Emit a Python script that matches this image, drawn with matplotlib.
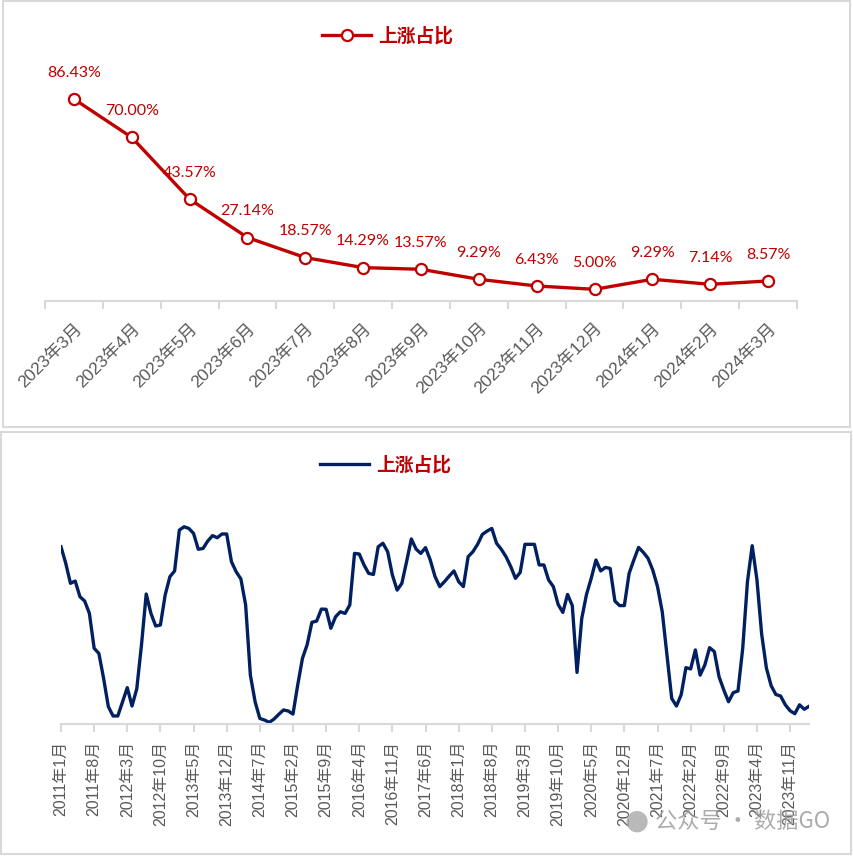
import matplotlib
matplotlib.use("Agg")
import matplotlib.pyplot as plt
from matplotlib.patches import Rectangle

plt.rcParams['font.family'] = ['Liberation Sans', 'Noto Sans CJK SC', 'DejaVu Sans']

# top chart data (last 13 months)
top_months = ["2023年3月", "2023年4月", "2023年5月", "2023年6月", "2023年7月", "2023年8月",
              "2023年9月", "2023年10月", "2023年11月", "2023年12月", "2024年1月",
              "2024年2月", "2024年3月"]
top_values = [86.43, 70.00, 43.57, 27.14, 18.57, 14.29, 13.57, 9.29, 6.43, 5.00, 9.29, 7.14, 8.57]

# bottom chart data, monthly from 2011年1月 to 2024年3月
hist_values = [85.9, 77.9, 68.2, 69.3, 61.7, 59.6, 53.6, 36.7, 34.2, 22.1, 8.4, 3.9,
               3.9, 10.8, 17.6, 8.7, 17.0, 38.3, 63.0, 53.6, 47.5, 48.0, 62.5, 71.4,
               74.2, 94.0, 95.6, 94.8, 92.4, 84.7, 85.1, 88.7, 91.3, 90.3, 92.1, 92.1,
               78.7, 73.8, 70.3, 57.7, 23.7, 10.8, 2.7, 1.9, 0.8, 2.4, 4.7, 6.8,
               6.3, 4.8, 18.9, 31.8, 38.5, 49.3, 49.9, 55.7, 55.6, 46.4, 52.0, 54.4,
               53.6, 57.7, 82.7, 82.4, 77.1, 73.0, 72.5, 85.9, 87.6, 83.5, 72.2, 64.9,
               68.2, 78.7, 89.7, 84.8, 82.7, 85.5, 79.5, 71.5, 66.6, 69.0, 71.7, 74.2,
               69.0, 66.6, 81.1, 83.5, 87.1, 91.9, 93.5, 94.8, 87.6, 84.7, 81.1, 76.3,
               70.6, 73.5, 87.1, 87.1, 87.1, 77.1, 77.1, 69.8, 66.6, 58.0, 54.1, 62.8,
               57.4, 25.0, 51.2, 62.8, 70.6, 79.5, 74.2, 75.9, 75.4, 59.6, 57.4, 57.4,
               73.0, 79.5, 85.6, 83.2, 80.3, 74.6, 66.6, 54.4, 33.4, 12.4, 8.7, 14.2,
               27.3, 26.7, 35.9, 23.7, 28.6, 37.0, 35.1, 22.9, 16.5, 10.8, 15.2, 16.0,
               36.7, 69.0] + top_values
hist_months = ["%d年%d月" % (2011 + k // 12, k % 12 + 1) for k in range(len(hist_values))]

RED = "#C00000"
NAVY = "#002060"
GRID = "#D9D9D9"
LABEL = "#595959"

W, H = 854, 856
fig = plt.figure(figsize=(W / 100, H / 100), dpi=100)

def box(x0, y0, x1, y1):
    # pixel coords (top-left origin) -> figure fraction
    return [x0 / W, 1 - y1 / H, (x1 - x0) / W, (y1 - y0) / H]

# panel borders
fig.patches.append(Rectangle((3 / W, 1 - 427 / H), 847 / W, 426 / H, transform=fig.transFigure,
                             fill=False, edgecolor=GRID, lw=1.5))
fig.patches.append(Rectangle((1 / W, 1 - 854 / H), 850 / W, 422 / H, transform=fig.transFigure,
                             fill=False, edgecolor=GRID, lw=1.5))

# ---- top chart ----
ax1 = fig.add_axes(box(45, 67.3, 797, 301))
x1 = list(range(len(top_values)))
ax1.plot(x1, top_values, color=RED, lw=2.4, marker='o', ms=8, mfc='white', mec=RED, mew=1.6,
         label="上涨占比", zorder=3)
for xi, v in zip(x1, top_values):
    ax1.annotate("%.2f%%" % v, (xi, v), xytext=(0, 19), textcoords='offset points',
                 ha='center', va='center', color=RED, fontsize=11.5, family=['Lato', 'DejaVu Sans'])
ax1.set_xlim(-0.5, len(top_values) - 0.5)
ax1.set_ylim(0, 100)
ax1.set_yticks([])
ax1.set_xticks([i - 0.5 for i in range(len(top_values) + 1)])
ax1.set_xticklabels([])
ax1.set_xticks(x1, minor=True)
ax1.set_xticklabels(top_months, minor=True, rotation=45, ha='right', va='top',
                    rotation_mode='anchor', color=LABEL, fontsize=12.5)
ax1.tick_params(axis='x', which='major', length=6, width=1.5, color=GRID, direction='out')
ax1.tick_params(axis='x', which='minor', length=0, pad=14)
for s in ['top', 'right', 'left']:
    ax1.spines[s].set_visible(False)
ax1.spines['bottom'].set_color(GRID)
ax1.spines['bottom'].set_linewidth(1.5)
ax1.patch.set_alpha(0)

leg1 = fig.legend(handles=ax1.get_lines(), loc='center', bbox_to_anchor=(388 / W, 1 - 36 / H),
                  frameon=False, handlelength=2.6, handletextpad=0.4,
                  prop={'family': 'Noto Sans CJK SC', 'weight': 'bold', 'size': 13.5})
for t in leg1.get_texts():
    t.set_color(RED)

# ---- bottom chart ----
ax2 = fig.add_axes(box(61, 517.7, 809, 724))
x2 = list(range(len(hist_values)))
ax2.plot(x2, hist_values, color=NAVY, lw=2.4, label="上涨占比", solid_joinstyle='round')
ax2.set_xlim(0, len(hist_values) - 1)
ax2.set_ylim(0, 100)
ax2.set_yticks([])
tick_pos = list(range(0, len(hist_values), 7))
ax2.set_xticks(tick_pos)
ax2.set_xticklabels([hist_months[i] for i in tick_pos], rotation=90, color=LABEL, fontsize=11.5)
ax2.tick_params(axis='x', length=6, width=1.5, color=GRID, direction='out', pad=6)
for s in ['top', 'right', 'left']:
    ax2.spines[s].set_visible(False)
ax2.spines['bottom'].set_color(GRID)
ax2.spines['bottom'].set_linewidth(1.5)
ax2.patch.set_alpha(0)

leg2 = fig.legend(handles=ax2.get_lines(), loc='center', bbox_to_anchor=(386 / W, 1 - 465 / H),
                  frameon=False, handlelength=2.6, handletextpad=0.4,
                  prop={'family': 'Noto Sans CJK SC', 'weight': 'bold', 'size': 13.5})
for t in leg2.get_texts():
    t.set_color(RED)

# watermark
fig.text(655 / W, 1 - 821 / H, "公众号 · 数据GO", color="#9E9E9E", alpha=0.85, fontsize=16,
         family=['Noto Sans CJK SC', 'DejaVu Sans'], va='center', ha='left')
fig.text(637 / W, 1 - 821 / H, "●", color="#A8A8A8", alpha=0.8, fontsize=20, va='center', ha='center',
         family='DejaVu Sans')

fig.savefig("out.png", dpi=100)
